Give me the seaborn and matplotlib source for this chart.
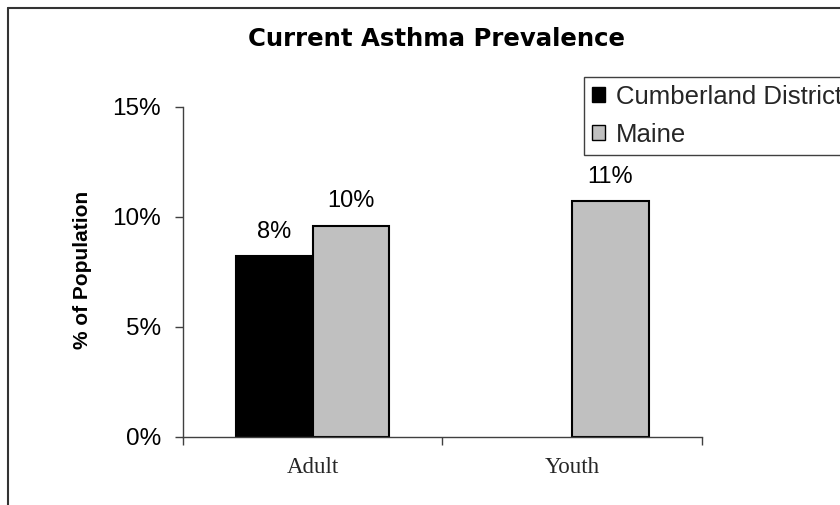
import numpy as np
import pandas as pd
import matplotlib
matplotlib.use("Agg")
import matplotlib.pyplot as plt
from matplotlib.patches import Patch
from matplotlib.lines import Line2D
from matplotlib.ticker import FixedLocator, NullFormatter, FixedFormatter
import seaborn as sns

# ---- data ----
groups = ["Adult", "Youth"]
regions = ["Cumberland District", "Maine"]
cumberland = [8.2, np.nan]
maine = [9.6, 10.7]
y_ticks = [0, 5, 10, 15]
y_tick_labels = ["0%", "5%", "10%", "15%"]
title = "Current Asthma Prevalence"
ylabel = "% of Population"
colors = ["#000000", "#C0C0C0"]

df = pd.DataFrame({
    "group": groups * 2,
    "region": [regions[0]] * 2 + [regions[1]] * 2,
    "value": cumberland + maine,
})

sns.set_theme(style="white")
plt.rcParams["font.family"] = ["Liberation Sans", "DejaVu Sans"]

W, H = 840, 505
fig = plt.figure(figsize=(W / 100, H / 100), dpi=100)
ax = fig.add_axes([182.7 / W, 1 - 436.7 / H, (702 - 182.7) / W, (436.7 - 106.7) / H])

sns.barplot(data=df, x="group", y="value", hue="region", order=groups,
            hue_order=regions, palette=colors, width=0.59, errorbar=None,
            edgecolor="black", linewidth=1.5, ax=ax, legend=False)

for cont in ax.containers:
    ax.bar_label(cont, fmt="{:.0f}%", padding=9.5, fontsize=17,
                 color="black", family="Liberation Sans")

ax.set_xlim(-0.5, 1.5)
ax.set_ylim(0, 15)
ax.set_yticks(y_ticks)
ax.set_yticklabels(y_tick_labels)
ax.xaxis.set_major_locator(FixedLocator([-0.5, 0.5, 1.5]))
ax.xaxis.set_major_formatter(NullFormatter())
ax.xaxis.set_minor_locator(FixedLocator([0, 1]))
ax.xaxis.set_minor_formatter(FixedFormatter(groups))
ax.tick_params(axis="x", which="minor", length=0, pad=14.5,
               labelsize=16.5, labelfontfamily="Liberation Serif")
ax.tick_params(axis="x", which="major", length=6, width=1, color="#404040",
               direction="out", bottom=True)
ax.tick_params(axis="y", length=6, width=1, color="#404040", direction="out",
               pad=9.5, labelsize=17.5, left=True)
ax.set_xlabel("")
ax.set_ylabel(ylabel, fontsize=15, fontweight="bold", color="black")
ax.yaxis.set_label_coords(-0.174, 0.505)
for s in ["top", "right"]:
    ax.spines[s].set_visible(False)
for s in ["left", "bottom"]:
    ax.spines[s].set_color("#404040")
    ax.spines[s].set_linewidth(1)
for lab in ax.get_yticklabels():
    lab.set_color("black")

fig.text(436 / W, 1 - 46 / H, title, ha="center", va="baseline",
         fontsize=17.6, fontweight="bold", family="DejaVu Sans", color="black")

handles = [Patch(facecolor=c, edgecolor="black", linewidth=1) for c in colors]
leg = fig.legend(handles, regions, loc="upper left",
                 bbox_to_anchor=(584 / W, 1 - 77 / H), frameon=True,
                 fancybox=False, shadow=False, fontsize=18.5, borderaxespad=0,
                 borderpad=0.3, handlelength=0.52, handleheight=0.52,
                 handletextpad=0.43, labelspacing=0.55)
leg.get_frame().set_edgecolor("#404040")
leg.get_frame().set_linewidth(1)
leg.get_frame().set_alpha(1)

# outer chart frame (extends past the image at right and bottom)
fig.add_artist(Line2D([8 / W, 1.01], [1 - 8 / H, 1 - 8 / H], color="#333333",
                      linewidth=1.5, transform=fig.transFigure))
fig.add_artist(Line2D([8 / W, 8 / W], [-0.01, 1 - 8 / H], color="#333333",
                      linewidth=1.5, transform=fig.transFigure))

fig.savefig("out.png", dpi=100)
